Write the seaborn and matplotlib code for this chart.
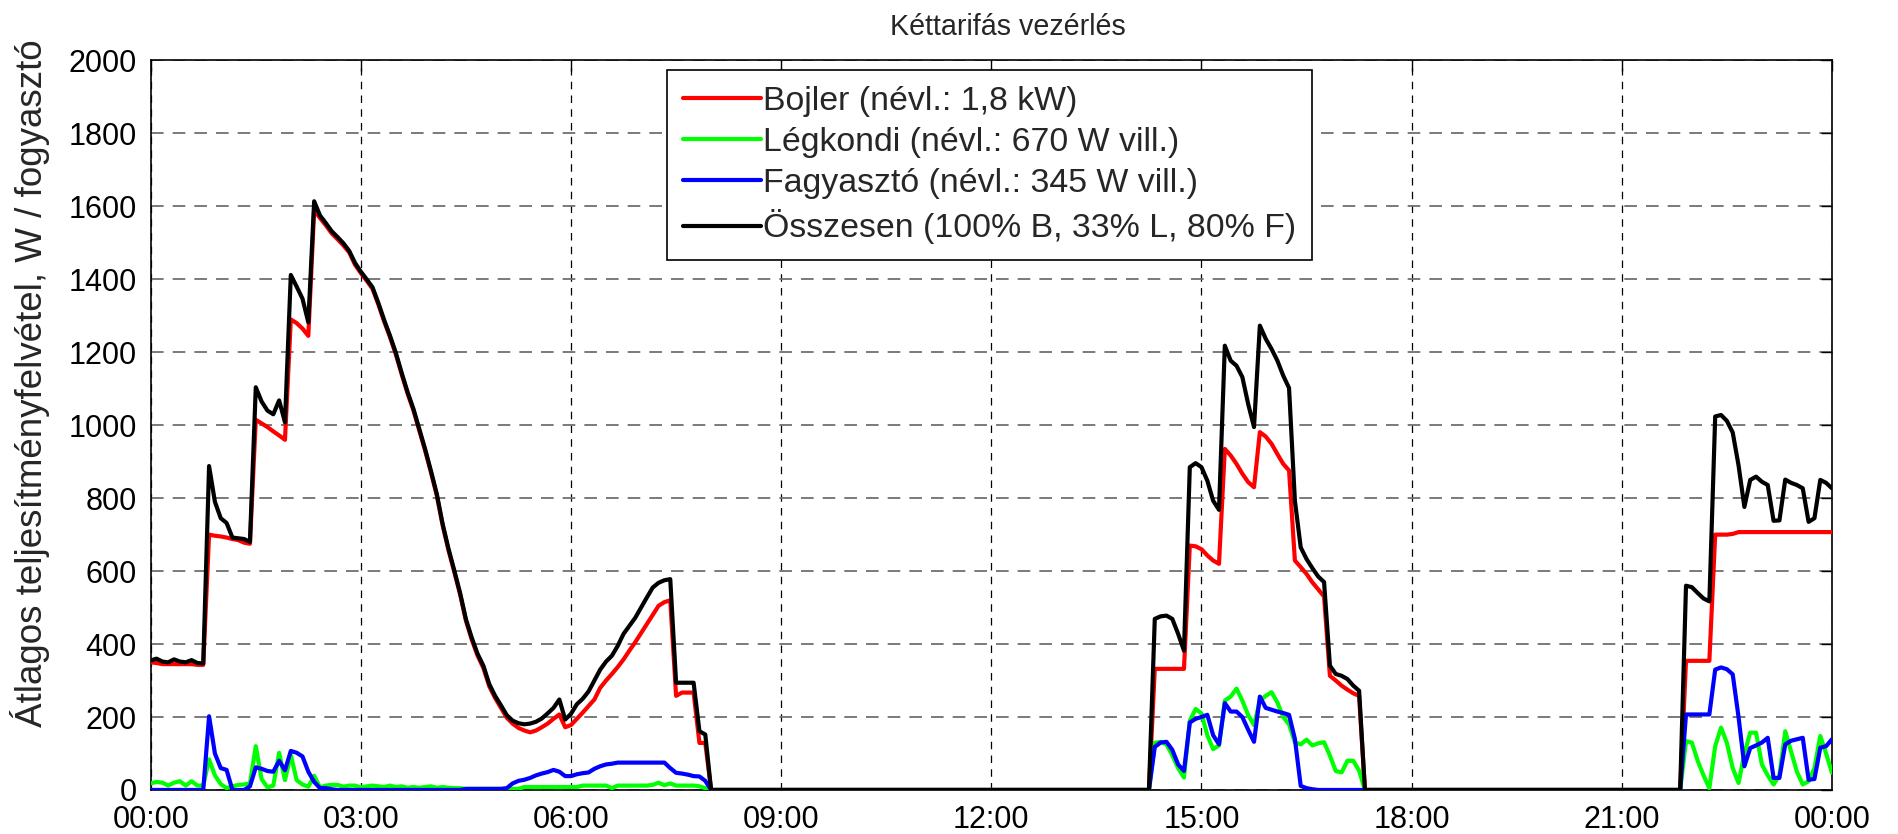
import numpy as np
import pandas as pd
import matplotlib
matplotlib.use('Agg')
import matplotlib.pyplot as plt
import seaborn as sns

# 5 perces átlagok, 00:00 - 24:00 (289 pont)
# éjszakai szakasz: 00:00 - 08:00
bojler_ejjel = [350, 348, 345, 345, 345, 345, 345, 345, 343, 343,
                700, 697, 695, 692, 688, 685, 678, 675,
                1015, 1005, 995, 983, 972, 960,
                1290, 1280, 1265, 1245,
                1590, 1568, 1548, 1526, 1510, 1493, 1474, 1440, 1417,
                1396, 1374, 1331, 1284, 1241, 1194, 1139, 1087, 1041, 986, 931, 871,
                808, 726, 658, 598, 536, 464, 412, 368, 334, 284, 252, 225,
                198, 182, 170, 163, 158, 163, 172, 182, 195, 207, 172,
                178, 195, 212, 230, 248, 280, 300, 318, 337, 358, 382, 405, 430,
                455, 480, 505, 515, 520,
                258, 267, 267, 267, 129, 129, 0]
legkondi_ejjel = [18, 22, 20, 12, 20, 24, 12, 24, 12, 12,
                  84, 40, 16, 5, 10, 14, 15, 18, 120, 30, 7, 12, 102, 27, 96, 27,
                  15, 9, 39, 7, 12, 14, 14, 9, 12, 12, 7,
                  10, 12, 10, 8, 12, 8, 10, 6, 8, 6, 8, 10, 6, 8, 6, 5, 5,
                  3, 3, 3, 3, 3, 3, 3, 3, 3, 3,
                  8, 8, 8, 8, 8, 8, 8, 8, 8, 8,
                  12, 12, 12, 12, 12, 5, 12, 12, 12, 12, 12, 12,
                  14, 20, 13, 18, 12, 12, 12, 12, 10, 5, 0]
fagyaszto_ejjel = [0, 0, 0, 0, 0, 0, 0, 0, 0, 0,
                   202, 100, 60, 55, 0, 0, 0, 10, 62, 58, 52, 50, 80, 54, 107, 102,
                   92, 50, 22, 5, 5, 2,
                   0, 0, 0, 0, 0, 0, 0, 0, 0, 0, 0, 0, 0, 0, 0, 0, 0, 0, 0, 0, 0, 0,
                   3, 3, 3, 3, 3, 3, 3,
                   5, 18, 25, 28, 33, 40, 45, 49, 55, 50, 38, 38, 43, 46, 48, 58, 65,
                   70, 72,
                   75, 75, 75, 75, 75, 75, 75, 75, 75,
                   60, 47, 45, 42, 38, 37, 25, 0]
osszes_ejjel = [355, 360, 352, 350, 358, 352, 350, 356, 348, 347,
                888, 790, 745, 732, 692, 690, 688, 680,
                1104, 1065, 1040, 1030, 1068, 1008,
                1412, 1380, 1347, 1282,
                1614, 1575, 1554, 1532, 1516, 1499, 1478, 1445, 1421,
                1400, 1378, 1335, 1288, 1245, 1198, 1143, 1091, 1045, 990, 935, 875,
                812, 730, 662, 602, 540, 468, 417, 373, 340, 290, 258, 232,
                205, 190, 183, 180, 182, 187, 196, 210, 225, 248, 193,
                209, 235, 250, 270, 300, 330, 352, 368, 395, 428, 450, 472, 500,
                528, 555, 568, 575, 578,
                294, 294, 294, 294, 161, 152, 0]

# délutáni szakasz: 14:20 - 17:15
bojler_delutan = [332, 332, 332, 332, 332, 332, 670, 668, 660, 643, 629, 620,
                  935, 917, 894, 867, 844, 830, 981, 969, 949, 921, 894, 876,
                  629, 611, 592, 569, 550, 530, 313, 300, 286, 275, 265, 258]
legkondi_delutan = [129, 132, 125, 95, 60, 34, 190, 222, 210, 150, 112, 122,
                    245, 256, 278, 245, 205, 178, 245, 258, 268, 240, 200, 180,
                    130, 125, 138, 122, 128, 131, 94, 52, 48, 80, 80, 53]
fagyaszto_delutan = [118, 130, 132, 110, 70, 52, 185, 195, 200, 206, 150, 125,
                     238, 215, 215, 200, 165, 132, 256, 225, 220, 215, 211, 206,
                     140, 11, 5, 2, 0, 0, 0, 0, 0, 0, 0, 0]
osszes_delutan = [469, 476, 478, 469, 428, 382, 885, 896, 885, 848, 793, 768,
                  1218, 1177, 1163, 1132, 1058, 995, 1273, 1237, 1209, 1177, 1136, 1102,
                  793, 665, 633, 608, 585, 570, 341, 318, 313, 304, 286, 272]

# esti szakasz: 21:55 - 24:00
bojler_este = [354, 354, 354, 354, 354, 700, 700, 700, 702,
               707, 707, 707, 707, 707, 707, 707, 707, 707, 707, 707, 707, 707,
               707, 707, 707, 707]
legkondi_este = [134, 130, 80, 40, 5, 120, 171, 129, 60, 19, 100, 157, 157,
                 70, 40, 15, 40, 161, 106, 50, 15, 24, 60, 148, 100, 47]
fagyaszto_este = [207, 207, 207, 207, 207, 330, 336, 331, 317, 200, 65, 115, 122,
                  130, 143, 33, 33, 125, 135, 139, 143, 28, 30, 116, 120, 139]
osszes_este = [560, 556, 540, 525, 517, 1024, 1028, 1012, 980, 890, 776, 850, 859,
               845, 836, 738, 739, 851, 842, 836, 827, 735, 745, 850, 842, 827]

# kikapcsolt időszakok (nulla)
ki_nappal = [0] * 75   # 08:05 - 14:15
ki_este = [0] * 55     # 17:20 - 21:50

nevek = ['Bojler (névl.: 1,8 kW)', 'Légkondi (névl.: 670 W vill.)',
         'Fagyasztó (névl.: 345 W vill.)', 'Összesen (100% B, 33% L, 80% F)']
szinek = ['#ff0000', '#00ff00', '#0000ff', '#000000']
xtick_cimkek = ['00:00', '03:00', '06:00', '09:00', '12:00', '15:00', '18:00', '21:00', '00:00']

bojler = bojler_ejjel + ki_nappal + bojler_delutan + ki_este + bojler_este
legkondi = legkondi_ejjel + ki_nappal + legkondi_delutan + ki_este + legkondi_este
fagyaszto = fagyaszto_ejjel + ki_nappal + fagyaszto_delutan + ki_este + fagyaszto_este
osszes = osszes_ejjel + ki_nappal + osszes_delutan + ki_este + osszes_este
ido = np.arange(len(bojler)) / 12  # órában

df = pd.DataFrame({'ido': ido, nevek[0]: bojler, nevek[1]: legkondi,
                   nevek[2]: fagyaszto, nevek[3]: osszes})
df = df.melt(id_vars='ido', var_name='sorozat', value_name='W')

sns.set_style('white')
plt.rcParams['font.family'] = ['Liberation Sans', 'DejaVu Sans']

fig = plt.figure(figsize=(18.98, 8.34), dpi=100)
ax = fig.add_axes([0.0794, 0.0528, 0.8858, 0.8747])

sns.lineplot(data=df, x='ido', y='W', hue='sorozat', hue_order=nevek,
             palette=szinek, linewidth=3.0, estimator=None, ax=ax, zorder=3)

ax.set_xlim(0, 24)
ax.set_ylim(0, 2000)
ax.set_xticks(np.arange(0, 25, 3))
ax.set_xticklabels(xtick_cimkek)
ax.set_yticks(np.arange(0, 2001, 200))
ax.tick_params(direction='in', length=8, width=1, top=True, right=True,
               labelsize=22, colors='black')
ax.tick_params(axis='y', pad=10)
ax.tick_params(axis='x', pad=11)

# rács
ax.xaxis.grid(True, color='black', linewidth=0.9, linestyle=(0, (6, 5)))
ax.yaxis.grid(True, color='#707070', linewidth=1.3, linestyle=(0, (7, 5)))
ax.set_axisbelow(True)
for s in ax.spines.values():
    s.set_color('black')
    s.set_linewidth(1.2)

ax.set_xlabel('')
ax.set_ylabel('')

# jelmagyarázat
handles, labels = ax.get_legend_handles_labels()
for h in handles:
    h.set_linewidth(3.0)
leg = ax.legend(handles, labels, loc='upper left', bbox_to_anchor=(0.307, 0.987),
                fontsize=24.4, frameon=True, fancybox=False, framealpha=1,
                edgecolor='black', handlelength=2.3, handletextpad=0.06,
                labelspacing=0.3, borderpad=0.47, borderaxespad=0)
leg.get_frame().set_linewidth(1.2)
leg.set_zorder(5)

# feliratok
fig.text(0.531, 0.968, 'Kéttarifás vezérlés', ha='center', va='center', fontsize=20.6)
fig.text(0.0158, 0.54, 'Átlagos teljesítményfelvétel, W / fogyasztó',
         ha='center', va='center', rotation=90, fontsize=26.5)

fig.savefig('out.png', dpi=100)
